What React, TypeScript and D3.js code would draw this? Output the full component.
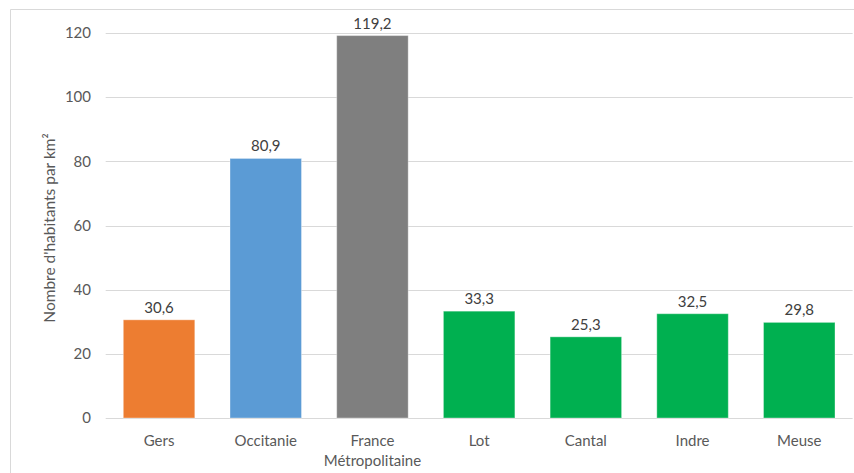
import * as d3 from "d3";
import {useEffect, useRef} from "react";

// données
const categories = ["Gers", "Occitanie", "France\nMétropolitaine", "Lot", "Cantal", "Indre", "Meuse"];
const values = [30.6, 80.9, 119.2, 33.3, 25.3, 32.5, 29.8];
const colors = ["#ED7D31", "#5B9BD5", "#7F7F7F", "#00B050", "#00B050", "#00B050", "#00B050"];
const yTicks = [0, 20, 40, 60, 80, 100, 120];

const App = () => {
  const width = 854;
  const height = 473;
  const svgRef = useRef<SVGSVGElement>(null!);

  useEffect(() => {
    const svg = d3.select(svgRef.current);
    svg.selectAll("*").remove();

    const font = "Lato, 'Open Sans', sans-serif";

    // cadre
    svg.append("path")
      .attr("d", `M10.5,${height} V9.5 H${width}`)
      .attr("fill", "none")
      .attr("stroke", "#D9D9D9");

    const x = d3.scaleBand()
      .domain(categories)
      .range([105.7, 852.6])
      .paddingInner(0.33)
      .paddingOuter(0.165);

    const y = d3.scaleLinear()
      .domain([0, 120])
      .range([418, 33]);

    // grille
    svg.append("g")
      .selectAll("line")
      .data(yTicks)
      .join("line")
      .attr("x1", 105.7)
      .attr("x2", 852.6)
      .attr("y1", d => Math.round(y(d)) + 0.5)
      .attr("y2", d => Math.round(y(d)) + 0.5)
      .attr("stroke", "#D9D9D9")
      .attr("stroke-width", 1);

    // étiquettes de l'axe Y
    svg.append("g")
      .selectAll("text")
      .data(yTicks)
      .join("text")
      .attr("x", 91)
      .attr("y", d => y(d))
      .attr("dy", "0.35em")
      .attr("text-anchor", "end")
      .attr("font-family", font)
      .attr("font-size", "15px")
      .attr("fill", "#595959")
      .text(d => d);

    // barres
    svg.append("g")
      .selectAll("rect")
      .data(values)
      .join("rect")
      .attr("x", (_, i) => x(categories[i])!)
      .attr("width", x.bandwidth())
      .attr("y", d => y(d))
      .attr("height", d => y(0) - y(d))
      .attr("fill", (_, i) => colors[i])
      .attr("stroke", "rgba(255,255,255,0.35)")
      .attr("stroke-width", 1);

    // valeurs
    svg.append("g")
      .selectAll("text")
      .data(values)
      .join("text")
      .attr("x", (_, i) => x(categories[i])! + x.bandwidth() / 2)
      .attr("y", d => y(d) - 7)
      .attr("text-anchor", "middle")
      .attr("font-family", font)
      .attr("font-size", "15px")
      .attr("fill", "#404040")
      .text(d => d.toFixed(1).replace(".", ","));

    // catégories
    const cat = svg.append("g")
      .selectAll("text")
      .data(categories)
      .join("text")
      .attr("x", d => x(d)! + x.bandwidth() / 2)
      .attr("y", 446)
      .attr("text-anchor", "middle")
      .attr("font-family", font)
      .attr("font-size", "15px")
      .attr("fill", "#595959");
    cat.selectAll("tspan")
      .data(d => d.split("\n").map(s => ({s, x: x(d)! + x.bandwidth() / 2})))
      .join("tspan")
      .attr("x", d => d.x)
      .attr("dy", (_, i) => (i === 0 ? 0 : 20))
      .text(d => d.s);

    // titre de l'axe
    svg.append("text")
      .attr("transform", `translate(55,228) rotate(-90)`)
      .attr("text-anchor", "middle")
      .attr("font-family", font)
      .attr("font-size", "15.5px")
      .attr("fill", "#595959")
      .text("Nombre d'habitants par km²");
  }, []);

  return (
    <svg width={width} height={height} ref={svgRef}
         style={{position: "absolute", left: 0, top: 0, background: "#fff"}}/>
  );
};

export default App;
